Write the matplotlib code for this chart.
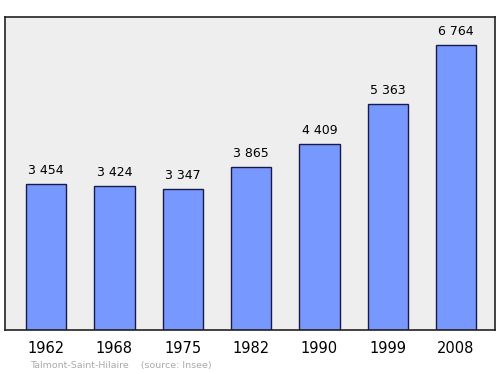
import matplotlib
matplotlib.use("Agg")
import matplotlib.pyplot as plt

years = ["1962", "1968", "1975", "1982", "1990", "1999", "2008"]
population = [3454, 3424, 3347, 3865, 4409, 5363, 6764]
value_labels = ["3 454", "3 424", "3 347", "3 865", "4 409", "5 363", "6 764"]

fig = plt.figure(figsize=(5, 3.74), dpi=100)
ax = fig.add_axes([0.01, 0.1176, 0.98, 0.837])
ax.set_facecolor("#eeeeee")

x = range(len(years))
ax.bar(x, population, width=0.59, color="#7799ff", edgecolor="#1a1a4a", linewidth=1)
for i, v in enumerate(population):
    ax.text(i, v + 170, value_labels[i], ha="center", va="bottom", fontsize=9)

ax.set_xlim(-0.6, 6.57)
ax.set_ylim(0, 7430)
ax.set_xticks(list(x))
ax.set_xticklabels(years, fontsize=10.5)
ax.tick_params(axis="x", length=0, pad=8)
ax.set_yticks([])
for s in ax.spines.values():
    s.set_linewidth(1.2)
    s.set_color("#222222")

fig.text(0.06, 0.015, "Talmont-Saint-Hilaire    (source: Insee)", fontsize=6.8, color="#aaaaaa")

plt.savefig("out.png", dpi=100)
